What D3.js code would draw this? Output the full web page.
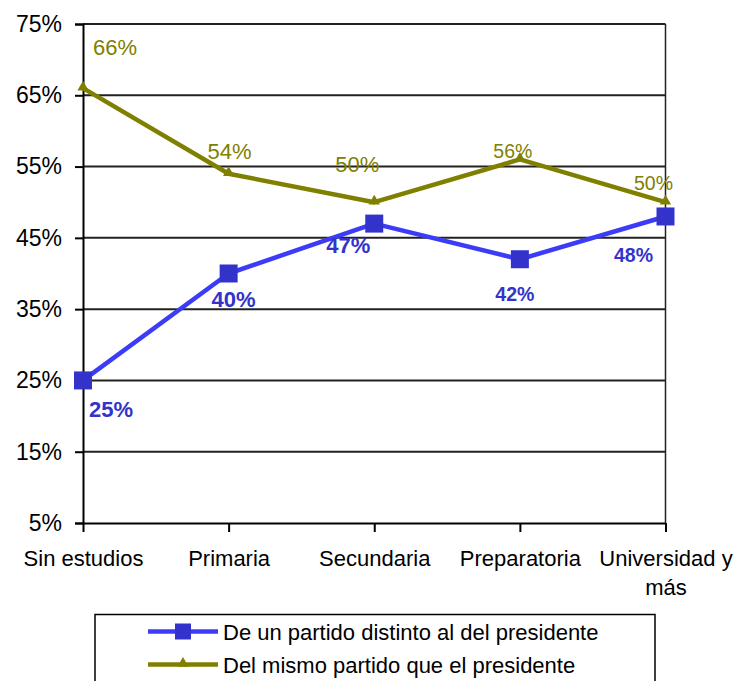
<!DOCTYPE html>
<html>
<head>
<meta charset="utf-8">
<script src="https://cdn.jsdelivr.net/npm/d3@7/dist/d3.min.js"></script>
<style>
  body { margin: 0; background: #fff; }
  svg { display: block; font-family: Arial, "Liberation Sans", sans-serif; }
</style>
</head>
<body>
<script>
// data
var categories = ['Sin estudios', 'Primaria', 'Secundaria', 'Preparatoria', 'Universidad y\nmás'];
var distinto = [25, 40, 47, 42, 48];
var mismo = [66, 54, 50, 56, 50];
var yTicks = [5, 15, 25, 35, 45, 55, 65, 75];
var seriesNames = ['De un partido distinto al del presidente', 'Del mismo partido que el presidente'];

// label placement (dx, dy from the point, font size)
var distintoLabelPos = [[28, 37, 22], [5, 33, 22], [-26, 29, 22], [-5, 42, 19.5], [-32, 46, 19.5]];
var mismoLabelPos = [[32, -33, 22], [1, -15, 22], [-17, -30, 22], [-7, -1, 19.5], [-12, -12, 19.5]];

var w = 738, h = 681;
var plotLeft = 83, plotRight = 665.5, plotTop = 24, plotBottom = 523;

var blueLine = '#3c3cf8', blueMark = '#3333cc', olive = '#808000';

var svg = d3.select('body').append('svg')
  .attr('width', w)
  .attr('height', h);

var x = d3.scalePoint().domain(categories).range([plotLeft, plotRight]);
var y = d3.scaleLinear().domain([5, 75]).range([plotBottom, plotTop]);

// gridlines
svg.append('g')
  .selectAll('line')
  .data(yTicks.filter(function(d) { return d > 5; }))
  .enter().append('line')
  .attr('x1', plotLeft).attr('x2', plotRight)
  .attr('y1', function(d) { return y(d); })
  .attr('y2', function(d) { return y(d); })
  .attr('stroke', '#222')
  .attr('stroke-width', 2);

// right border
svg.append('line')
  .attr('x1', plotRight).attr('x2', plotRight)
  .attr('y1', plotTop).attr('y2', plotBottom)
  .attr('stroke', '#222').attr('stroke-width', 1.5);

// y axis
var yAxis = svg.append('g')
  .attr('transform', 'translate(' + plotLeft + ',0)')
  .call(d3.axisLeft(y).tickValues(yTicks).tickSize(8).tickPadding(13)
    .tickFormat(function(d) { return d + '%'; }));
yAxis.select('.domain').attr('stroke', '#000').attr('stroke-width', 2);
yAxis.selectAll('.tick line').attr('stroke', '#000').attr('stroke-width', 2);
yAxis.selectAll('.tick text')
  .attr('font-size', 23).attr('fill', '#000')
  .style('font-family', 'Arial, "Liberation Sans", sans-serif');

// x axis
var xAxis = svg.append('g')
  .attr('transform', 'translate(0,' + plotBottom + ')')
  .call(d3.axisBottom(x).tickSize(9).tickSizeOuter(0));
xAxis.select('.domain').attr('stroke', '#000').attr('stroke-width', 2);
xAxis.selectAll('.tick line').attr('stroke', '#000').attr('stroke-width', 2);
xAxis.selectAll('.tick text').each(function(d) {
  var t = d3.select(this).text(null)
    .attr('font-size', 22).attr('fill', '#000')
    .attr('y', 0).attr('dy', null)
    .style('font-family', 'Arial, "Liberation Sans", sans-serif');
  d.split('\n').forEach(function(part, i) {
    t.append('tspan').attr('x', 0).attr('y', 43 + i * 29).text(part);
  });
});

// lines
var line = d3.line()
  .x(function(d, i) { return x(categories[i]); })
  .y(function(d) { return y(d); });

svg.append('path').datum(mismo)
  .attr('d', line).attr('fill', 'none')
  .attr('stroke', olive).attr('stroke-width', 4.5)
  .attr('stroke-linejoin', 'round');

svg.append('path').datum(distinto)
  .attr('d', line).attr('fill', 'none')
  .attr('stroke', blueLine).attr('stroke-width', 4.5)
  .attr('stroke-linejoin', 'round');

// markers
var tri = d3.symbol().type(d3.symbolTriangle).size(55);
svg.append('g').selectAll('path')
  .data(mismo).enter().append('path')
  .attr('d', tri)
  .attr('transform', function(d, i) { return 'translate(' + x(categories[i]) + ',' + (y(d) - 1) + ')'; })
  .attr('fill', olive);

svg.append('g').selectAll('rect')
  .data(distinto).enter().append('rect')
  .attr('x', function(d, i) { return x(categories[i]) - 9; })
  .attr('y', function(d) { return y(d) - 9; })
  .attr('width', 18).attr('height', 18)
  .attr('fill', blueMark);

// data labels
svg.append('g').selectAll('text')
  .data(mismo).enter().append('text')
  .attr('x', function(d, i) { return x(categories[i]) + mismoLabelPos[i][0]; })
  .attr('y', function(d, i) { return y(d) + mismoLabelPos[i][1]; })
  .attr('font-size', function(d, i) { return mismoLabelPos[i][2]; })
  .attr('text-anchor', 'middle')
  .attr('fill', olive)
  .text(function(d) { return d + '%'; });

svg.append('g').selectAll('text')
  .data(distinto).enter().append('text')
  .attr('x', function(d, i) { return x(categories[i]) + distintoLabelPos[i][0]; })
  .attr('y', function(d, i) { return y(d) + distintoLabelPos[i][1]; })
  .attr('font-size', function(d, i) { return distintoLabelPos[i][2]; })
  .attr('font-weight', 'bold')
  .attr('text-anchor', 'middle')
  .attr('fill', blueMark)
  .text(function(d) { return d + '%'; });

// legend
var legend = svg.append('g').attr('transform', 'translate(95,614.5)');
legend.append('rect')
  .attr('x', 0).attr('y', 0)
  .attr('width', 560).attr('height', 80)
  .attr('fill', '#fff').attr('stroke', '#000').attr('stroke-width', 1.5);

var rows = legend.selectAll('g.row')
  .data(seriesNames).enter().append('g')
  .attr('class', 'row')
  .attr('transform', function(d, i) { return 'translate(0,' + (17 + i * 33) + ')'; });

rows.append('line')
  .attr('x1', 53).attr('x2', 123).attr('y1', 0).attr('y2', 0)
  .attr('stroke', function(d, i) { return i === 0 ? blueLine : olive; })
  .attr('stroke-width', 4.5);

rows.filter(function(d, i) { return i === 0; }).append('rect')
  .attr('x', 80).attr('y', -8).attr('width', 16).attr('height', 16)
  .attr('fill', blueMark);
rows.filter(function(d, i) { return i === 1; }).append('path')
  .attr('d', tri).attr('transform', 'translate(88,-1)')
  .attr('fill', olive);

rows.append('text')
  .attr('x', 128).attr('y', 8)
  .attr('font-size', 22).attr('fill', '#000')
  .text(function(d) { return d; });
</script>
</body>
</html>
